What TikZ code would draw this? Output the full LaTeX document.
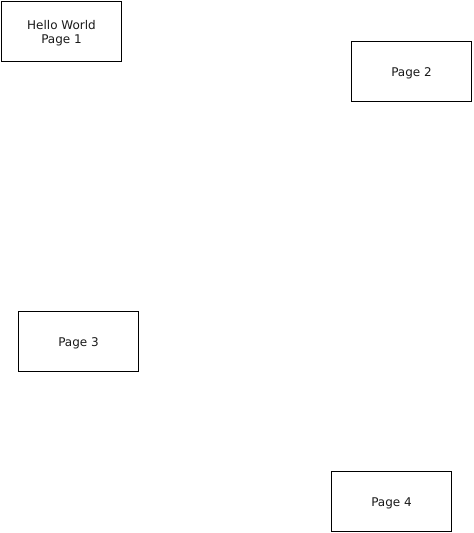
\documentclass[tikz,border=0pt]{standalone}
\usepackage{fontspec}
\setmainfont{DejaVu Sans}
\begin{document}
\begin{tikzpicture}[x=1pt,y=-1pt,
  page/.style={draw=black,line width=1pt,minimum width=120pt,minimum height=60pt,inner sep=0pt,align=center,font=\fontsize{12}{14}\selectfont,text=black!90,text depth=2.3pt,text height=13pt},
  twoline/.style={text height=27pt}]
\useasboundingbox (0,0) rectangle (474,533);
\node[page,twoline] (p1) at (61.5,31.5) {Hello World\\Page 1};
\node[page] (p2) at (411.5,71.5) {Page 2};
\node[page] (p3) at (78.5,341.5) {Page 3};
\node[page] (p4) at (391.5,501.5) {Page 4};
\end{tikzpicture}
\end{document}
